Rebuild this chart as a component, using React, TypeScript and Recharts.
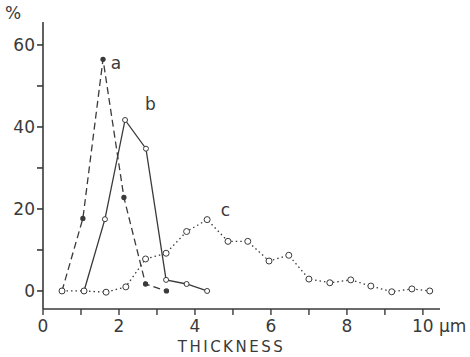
import { LineChart, Line, XAxis, YAxis, ReferenceDot, Label } from "recharts"

// thickness in µm, share in %
const thicknessA = [0.5, 1.05, 1.58, 2.13, 2.7, 3.25]
const percentA = [0, 17.7, 56.5, 22.8, 1.7, 0]

const thicknessB = [1.08, 1.63, 2.16, 2.71, 3.24, 3.78, 4.32]
const percentB = [0, 17.5, 41.7, 34.7, 2.7, 1.7, 0]

const thicknessC = [0.5, 1.08, 1.66, 2.18, 2.7, 3.24, 3.78, 4.32, 4.87, 5.39, 5.95, 6.47, 7.0, 7.55, 8.1, 8.63, 9.18, 9.71, 10.18]
const percentC = [0, 0, -0.3, 1, 7.8, 9.2, 14.5, 17.4, 12.1, 12.1, 7.3, 8.7, 2.9, 2, 2.7, 1.2, -0.2, 0.5, 0]

const xTicks = [0, 1, 2, 3, 4, 5, 6, 7, 8, 9, 10]
const yTicks = [0, 10, 20, 30, 40, 50, 60]

const ink = "#3a3a3a"
const font = "DejaVu Sans"

const rows = (xs: number[], ys: number[]) => xs.map((x, i) => ({ x, y: ys[i] }))

function XTick({ x, y, payload }: any) {
  const v = payload.value
  if (v % 2 !== 0) return null
  if (v === 10) {
    return (
      <text x={x - 11} y={y + 15} fill={ink} fontSize={17} fontFamily={font} textAnchor="start">
        10 μm
      </text>
    )
  }
  return (
    <text x={x} y={y + 15} fill={ink} fontSize={17} fontFamily={font} textAnchor="middle">
      {v}
    </text>
  )
}

export default function App() {
  return (
    <div style={{ position: "absolute", left: 0, top: 0, width: 470, height: 357, background: "#fff" }}>
      <span
        style={{ position: "absolute", left: 5, top: 3, fontFamily: font, fontSize: 17, color: ink }}
      >
        %
      </span>
      <LineChart width={470} height={357} margin={{ top: 22, right: 30, left: 0, bottom: 0 }}>
        <XAxis
          dataKey="x"
          type="number"
          domain={[0, 10.45]}
          ticks={xTicks}
          tick={<XTick />}
          tickSize={6}
          stroke={ink}
          strokeWidth={1.4}
          height={48}
          allowDataOverflow
        >
          <Label
            value="THICKNESS"
            position="insideBottom"
            offset={5}
            dx={-10}
            fill={ink}
            fontSize={15}
            fontFamily={font}
            letterSpacing={2.5}
          />
        </XAxis>
        <YAxis
          type="number"
          domain={[-4.4, 65.6]}
          ticks={yTicks}
          tickFormatter={(v) => (v % 20 === 0 ? String(v) : "")}
          tick={{ fill: ink, fontSize: 17, fontFamily: font }}
          tickSize={6}
          stroke={ink}
          strokeWidth={1.6}
          width={43}
          allowDataOverflow
        />
        <Line
          data={rows(thicknessA, percentA)}
          dataKey="y"
          type="linear"
          stroke={ink}
          strokeWidth={1.3}
          strokeDasharray="7 4"
          dot={{ r: 2, fill: ink, stroke: ink, strokeDasharray: "none" }}
          isAnimationActive={false}
        />
        <Line
          data={rows(thicknessB, percentB)}
          dataKey="y"
          type="linear"
          stroke={ink}
          strokeWidth={1.3}
          dot={{ r: 2.5, fill: "#fff", stroke: ink, strokeWidth: 1 }}
          isAnimationActive={false}
        />
        <Line
          data={rows(thicknessC, percentC)}
          dataKey="y"
          type="linear"
          stroke={ink}
          strokeWidth={1.3}
          strokeDasharray="1.5 3"
          dot={{ r: 3, fill: "#fff", stroke: ink, strokeWidth: 1, strokeDasharray: "none" }}
          isAnimationActive={false}
        />
        <ReferenceDot x={1.92} y={55.5} r={0} fill="none" stroke="none">
          <Label value="a" position="center" fill={ink} fontSize={17} fontFamily={font} />
        </ReferenceDot>
        <ReferenceDot x={2.83} y={45.5} r={0} fill="none" stroke="none">
          <Label value="b" position="center" fill={ink} fontSize={17} fontFamily={font} />
        </ReferenceDot>
        <ReferenceDot x={4.8} y={19.8} r={0} fill="none" stroke="none">
          <Label value="c" position="center" fill={ink} fontSize={17} fontFamily={font} />
        </ReferenceDot>
      </LineChart>
    </div>
  )
}
